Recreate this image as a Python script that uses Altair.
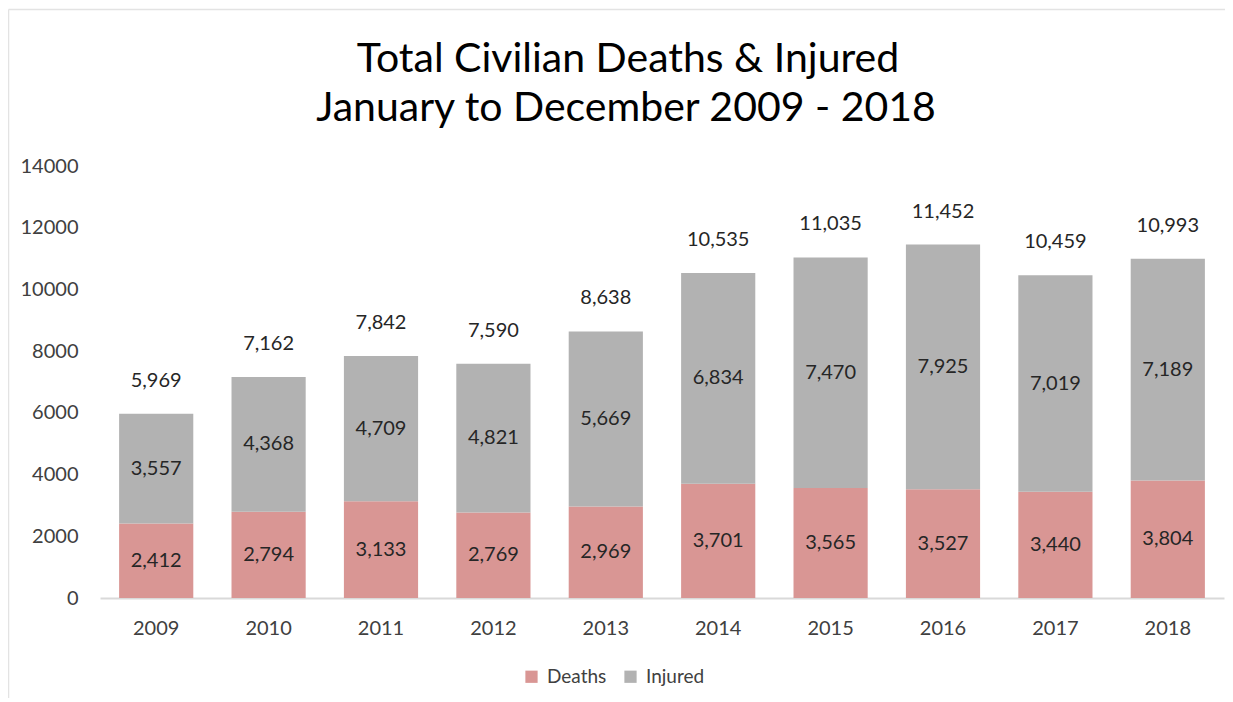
import altair as alt
import pandas as pd

years = ["2009", "2010", "2011", "2012", "2013", "2014", "2015", "2016", "2017", "2018"]
deaths = [2412, 2794, 3133, 2769, 2969, 3701, 3565, 3527, 3440, 3804]
injured = [3557, 4368, 4709, 4821, 5669, 6834, 7470, 7925, 7019, 7189]
totals = [5969, 7162, 7842, 7590, 8638, 10535, 11035, 11452, 10459, 10993]
title_lines = ["Total Civilian Deaths & Injured", "January to December 2009 - 2018"]

FONT = "Lato"
rows = []
for y, d, i in zip(years, deaths, injured):
    rows.append({"year": y, "series": "Deaths", "value": d, "order": 0, "mid": d / 2})
    rows.append({"year": y, "series": "Injured", "value": i, "order": 1, "mid": d + i / 2})
df = pd.DataFrame(rows)
tot = pd.DataFrame({"year": years, "total": totals})

xenc = alt.X("year:N", sort=years, title=None,
             scale=alt.Scale(paddingInner=0.34, paddingOuter=0.17),
             axis=alt.Axis(labelAngle=0, ticks=False, domainColor="#D9D9D9", domainWidth=2,
                           labelPadding=20, labelFontSize=20, labelColor="#404040", labelFont=FONT))

bars = alt.Chart(df).mark_bar().encode(
    x=xenc,
    y=alt.Y("value:Q", stack="zero", title=None,
            scale=alt.Scale(domain=[0, 14000], nice=False),
            axis=alt.Axis(values=list(range(0, 14001, 2000)), format="d", domain=False, ticks=False,
                          grid=False, labelPadding=22, labelFontSize=20, labelColor="#404040",
                          labelFont=FONT)),
    color=alt.Color("series:N", sort=["Deaths", "Injured"],
                    scale=alt.Scale(domain=["Deaths", "Injured"], range=["#D99694", "#B2B2B2"]),
                    legend=alt.Legend(title=None, orient="none", direction="horizontal",
                                      legendX=422, legendY=501, symbolType="square", symbolSize=150,
                                      symbolStrokeWidth=0, labelFontSize=19, labelFont=FONT,
                                      labelColor="#404040", columnPadding=14, labelOffset=6)),
    order=alt.Order("order:Q"),
)

seg_labels = alt.Chart(df).mark_text(fontSize=20, font=FONT, color="#262626", baseline="middle").encode(
    x=alt.X("year:N", sort=years),
    y=alt.Y("mid:Q"),
    text=alt.Text("value:Q", format=","),
)

tot_labels = alt.Chart(tot).mark_text(fontSize=20, font=FONT, color="#262626", baseline="middle", dy=-33).encode(
    x=alt.X("year:N", sort=years),
    y=alt.Y("total:Q"),
    text=alt.Text("total:Q", format=","),
)

# two-line chart title as text
title1 = alt.Chart(pd.DataFrame({"t": [title_lines[0]]})).mark_text(
    fontSize=41, font=FONT, color="#000000", baseline="middle", align="center").encode(
    text="t:N", x=alt.value(528), y=alt.value(-106))
title2 = alt.Chart(pd.DataFrame({"t": [title_lines[1]]})).mark_text(
    fontSize=41, font=FONT, color="#000000", baseline="middle", align="center").encode(
    text="t:N", x=alt.value(526), y=alt.value(-57))

# chart-area frame (decoration)
frame_top = alt.Chart().mark_rule(color="#E3E3E3", strokeWidth=1.5).encode(
    x=alt.value(-91.5), x2=alt.value(1125), y=alt.value(-156.5))
frame_left = alt.Chart().mark_rule(color="#E3E3E3", strokeWidth=1.5).encode(
    x=alt.value(-91.5), y=alt.value(-156.5), y2=alt.value(540))

chart = alt.layer(frame_top, frame_left, bars, seg_labels, tot_labels, title1, title2).properties(
    width=1124, height=432,
    background="white",
    autosize=alt.AutoSizeParams(type="none"),
    padding={"left": 92, "top": 158, "right": 1, "bottom": 100},
).configure_view(stroke=None)

chart.save("out.html", embed_options={"renderer": "svg", "actions": False})
